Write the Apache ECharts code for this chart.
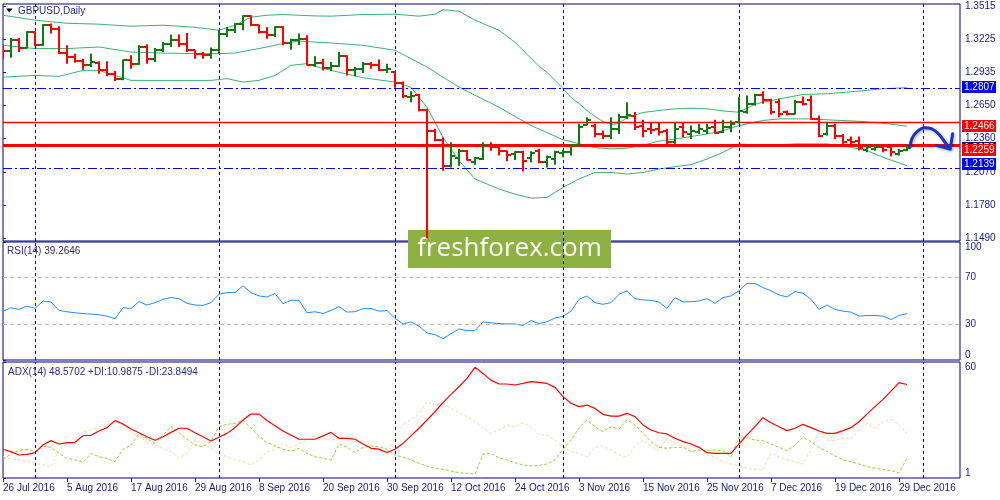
<!DOCTYPE html>
<html>
<head>
<meta charset="utf-8">
<title>GBPUSD, Daily</title>
<script src="https://cdn.jsdelivr.net/npm/echarts@6/dist/echarts.min.js"></script>
<style>
html, body { margin: 0; padding: 0; background: #fff; }
#chart { width: 1000px; height: 500px; }
</style>
</head>
<body>
<div id="chart"></div>
<script>
// x tick labels, one every 8 daily bars (bar 0 = 26 Jul 2016)
var dateTicks = ['26 Jul 2016', '5 Aug 2016', '17 Aug 2016', '29 Aug 2016', '8 Sep 2016', '20 Sep 2016',
  '30 Sep 2016', '12 Oct 2016', '24 Oct 2016', '3 Nov 2016', '15 Nov 2016', '25 Nov 2016',
  '7 Dec 2016', '19 Dec 2016', '29 Dec 2016'];
// bar index of the first day of each month (last one = 2 Jan 2017, in the empty area)
var monthStarts = [4, 27, 49, 70, 92, 115];

var priceTicks = [1.3515, 1.3225, 1.2935, 1.2650, 1.2360, 1.2070, 1.1780, 1.1490];
var rsiTicks = [0, 30, 70, 100];
var adxTicks = [1, 60];

// daily OHLC bars
var opens = [1.3150,1.3128,1.3223,1.3151,1.3291,1.3174,1.3349,1.3320,1.3107,1.3072,
  1.3034,1.2999,1.3020,1.2955,1.2920,1.2882,1.3043,1.3010,1.3159,1.3057,
  1.3130,1.3188,1.3223,1.3188,1.3130,1.3101,1.3086,1.3130,1.3276,1.3311,
  1.3358,1.3428,1.3349,1.3291,1.3262,1.3334,1.3194,1.3218,1.3232,1.3005,
  1.3020,1.2976,1.2990,1.3078,1.2961,1.2970,1.3013,1.3005,1.2961,1.2940,
  1.2844,1.2722,1.2736,1.2611,1.2424,1.2349,1.2124,1.2190,1.2255,1.2159,
  1.2182,1.2308,1.2285,1.2249,1.2226,1.2241,1.2190,1.2249,1.2153,1.2182,
  1.2232,1.2241,1.2300,1.2480,1.2474,1.2401,1.2387,1.2445,1.2547,1.2561,
  1.2474,1.2445,1.2445,1.2430,1.2330,1.2459,1.2401,1.2416,1.2430,1.2459,
  1.2416,1.2459,1.2503,1.2591,1.2664,1.2736,1.2698,1.2678,1.2591,1.2576,
  1.2678,1.2698,1.2532,1.2401,1.2474,1.2387,1.2350,1.2343,1.2262,1.2270,
  1.2284,1.2284,1.2226,1.2262];
var highs = [1.3174,1.3238,1.3238,1.3296,1.3296,1.3358,1.3363,1.3340,1.3174,1.3101,
  1.3057,1.3101,1.3034,1.3034,1.2949,1.3049,1.3086,1.3174,1.3183,1.3151,
  1.3203,1.3267,1.3267,1.3282,1.3136,1.3116,1.3154,1.3305,1.3334,1.3369,
  1.3436,1.3436,1.3352,1.3334,1.3340,1.3340,1.3232,1.3276,1.3262,1.3078,
  1.3057,1.3028,1.3116,1.3086,1.2984,1.3028,1.3028,1.3049,1.3013,1.2946,
  1.2859,1.2774,1.2751,1.2620,1.2445,1.2372,1.2328,1.2270,1.2261,1.2197,
  1.2328,1.2328,1.2300,1.2255,1.2249,1.2255,1.2249,1.2270,1.2212,1.2255,
  1.2261,1.2314,1.2489,1.2547,1.2489,1.2430,1.2547,1.2576,1.2678,1.2591,
  1.2524,1.2503,1.2503,1.2445,1.2503,1.2503,1.2474,1.2489,1.2489,1.2524,
  1.2524,1.2518,1.2720,1.2736,1.2751,1.2774,1.2707,1.2707,1.2605,1.2698,
  1.2728,1.2736,1.2561,1.2503,1.2489,1.2401,1.2378,1.2378,1.2299,1.2290,
  1.2290,1.2293,1.2270,1.2308];
var lows = [1.3049,1.3066,1.3116,1.3145,1.3165,1.3170,1.3276,1.3101,1.3013,1.3022,
  1.2961,1.2984,1.2926,1.2903,1.2862,1.2868,1.2970,1.3005,1.3013,1.3028,
  1.3116,1.3159,1.3159,1.3116,1.3057,1.3057,1.3057,1.3101,1.3247,1.3282,
  1.3305,1.3340,1.3276,1.3232,1.3247,1.3174,1.3136,1.3174,1.2999,1.2984,
  1.2955,1.2949,1.2985,1.2911,1.2903,1.2932,1.2970,1.2949,1.2932,1.2804,
  1.2713,1.2678,1.2597,1.1491,1.2337,1.2080,1.2109,1.2124,1.2168,1.2133,
  1.2174,1.2255,1.2212,1.2162,1.2174,1.2074,1.2153,1.2145,1.2109,1.2133,
  1.2197,1.2212,1.2290,1.2474,1.2372,1.2357,1.2357,1.2401,1.2532,1.2436,
  1.2372,1.2401,1.2387,1.2299,1.2314,1.2372,1.2357,1.2401,1.2401,1.2401,
  1.2410,1.2416,1.2490,1.2576,1.2649,1.2664,1.2570,1.2547,1.2561,1.2570,
  1.2649,1.2524,1.2372,1.2387,1.2357,1.2299,1.2314,1.2256,1.2241,1.2255,
  1.2241,1.2203,1.2212,1.2249];
var closes = [1.3128,1.3223,1.3151,1.3291,1.3174,1.3349,1.3320,1.3107,1.3072,1.3034,
  1.2999,1.3025,1.2955,1.2920,1.2882,1.3043,1.3010,1.3159,1.3057,1.3130,
  1.3188,1.3223,1.3188,1.3130,1.3101,1.3086,1.3130,1.3276,1.3311,1.3358,
  1.3428,1.3349,1.3291,1.3262,1.3334,1.3194,1.3218,1.3232,1.3005,1.3020,
  1.2976,1.2990,1.3078,1.2961,1.2970,1.3013,1.3005,1.2961,1.2970,1.2844,
  1.2728,1.2732,1.2611,1.2424,1.2349,1.2124,1.2212,1.2255,1.2174,1.2191,
  1.2308,1.2285,1.2255,1.2220,1.2241,1.2168,1.2232,1.2153,1.2197,1.2241,
  1.2241,1.2300,1.2459,1.2518,1.2401,1.2387,1.2445,1.2547,1.2570,1.2459,
  1.2430,1.2436,1.2416,1.2330,1.2445,1.2416,1.2430,1.2445,1.2450,1.2410,
  1.2459,1.2489,1.2605,1.2664,1.2736,1.2698,1.2591,1.2576,1.2576,1.2678,
  1.2664,1.2532,1.2387,1.2474,1.2387,1.2330,1.2330,1.2276,1.2284,1.2284,
  1.2262,1.2241,1.2249,1.2276];

// Bollinger bands at these bar indexes
var bbUpperAt = [0,4,8,12,16,20,24,27,29,31,33,35,39,41,45,49,52,54,55,57,59,62,64,66,67,68,69,70,71,72,
  73,74,75,76,77,78,80,82,84,86,88,90,92,94,95,98,100,103,107,110,113];
var bbUpper = [1.3436,1.3393,1.3366,1.3358,1.3340,1.3349,1.3331,1.3305,1.3349,1.3419,
  1.3436,1.3442,1.3430,1.3428,1.3442,1.3445,1.3428,1.3445,1.3484,1.3471,
  1.3393,1.3305,1.3200,1.3060,1.2990,1.2938,1.2868,1.2798,1.2719,1.2666,
  1.2605,1.2553,1.2509,1.2483,1.2491,1.2544,1.2588,1.2605,1.2620,1.2625,
  1.2620,1.2601,1.2590,1.2658,1.2678,1.2719,1.2745,1.2751,1.2774,1.2795,1.2804];
var bbMiddleAt = [0,4,8,12,16,20,24,27,29,33,35,37,39,41,45,49,53,57,62,66,
  70,72,74,76,78,80,82,84,86,88,90,92,95,97,101,103,107,110,113];
var bbMiddle = [1.3174,1.3145,1.3145,1.3159,1.3115,1.3106,1.3101,1.3101,1.3106,1.3159,
  1.3189,1.3211,1.3202,1.3194,1.3174,1.3130,1.2984,1.2809,1.2634,1.2474,
  1.2351,1.2316,1.2282,1.2270,1.2277,1.2303,1.2338,1.2357,1.2378,1.2401,
  1.2430,1.2474,1.2518,1.2532,1.2532,1.2524,1.2511,1.2494,1.2468];
var bbLowerAt = [0,4,7,10,12,14,16,20,26,28,30,32,34,36,38,39,41,45,49,51,
  53,55,57,59,62,64,66,68,70,72,74,76,78,80,82,84,86,88,90,92,95,99,103,106,108,110,113];
var bbLower = [1.2896,1.2911,1.2903,1.2955,1.2955,1.2911,1.2868,1.2868,1.2868,1.2883,
  1.2853,1.2868,1.2911,1.2999,1.3014,1.2990,1.2955,1.2891,1.2853,1.2809,
  1.2634,1.2371,1.2168,1.2008,1.1920,1.1876,1.1841,1.1847,1.1934,1.2008,
  1.2065,1.2065,1.2051,1.2065,1.2095,1.2115,1.2133,1.2182,1.2240,1.2314,
  1.2299,1.2314,1.2314,1.2284,1.2255,1.2197,1.2124];

var rsi = [41.4,44.3,42.9,45.7,43.7,50.0,49.1,42.0,40.9,40.0,
  39.4,38.9,38.3,37.2,34.9,44.3,43.7,49.4,46.6,48.6,
  51.4,52.9,52.0,48.0,46.6,46.3,48.6,55.7,57.1,57.1,
  62.9,57.1,54.3,53.4,56.3,47.7,50.6,50.6,40.0,40.9,
  39.4,42.0,45.2,40.6,40.9,43.4,43.7,41.4,42.0,35.2,
  30.6,32.3,28.6,22.9,21.5,18.0,22.3,26.3,24.9,24.9,
  32.3,31.5,30.9,30.6,30.6,29.2,33.4,30.9,32.3,35.7,
  36.9,41.4,51.4,54.3,48.6,47.2,48.6,55.7,58.6,52.0,
  50.9,50.6,49.2,43.7,52.9,49.2,49.4,50.0,52.0,48.0,
  52.9,54.3,58.6,64.9,64.9,61.4,58.6,55.1,53.4,58.0,
  56.6,51.4,42.9,46.6,42.9,41.4,40.6,37.2,37.7,37.7,
  37.2,34.3,37.7,39.26];

var adx = [15.6,14.4,12.7,13.0,13.9,17.8,20.0,18.3,19.0,19.1,
  22.5,22.7,24.9,26.6,30.2,28.5,25.9,24.0,22.0,20.2,
  22.0,24.2,26.3,26.3,24.0,22.0,19.8,21.7,23.7,26.6,
  30.5,33.5,33.5,30.2,27.6,24.9,22.9,20.7,20.7,20.7,
  22.4,24.2,21.2,21.2,20.7,18.3,16.1,15.7,14.0,15.6,
  18.6,22.4,26.3,30.5,34.7,39.3,43.5,47.4,51.7,57.3,
  54.2,50.8,48.8,48.8,48.3,49.1,50.0,49.6,49.1,47.1,
  42.4,39.0,37.3,38.1,36.4,33.4,32.5,32.5,33.9,32.2,
  28.0,25.4,24.0,23.4,21.2,19.5,18.3,16.6,13.9,13.5,
  13.5,13.5,18.3,22.9,27.1,31.7,29.1,27.1,25.1,26.3,
  28.3,26.6,24.9,23.7,23.7,25.1,26.6,29.6,33.5,37.3,
  41.0,45.2,49.5,48.57];
var plusDI = [10.2,13.5,14.9,15.6,14.4,17.3,16.6,13.5,11.0,10.2,
  9.1,13.5,11.8,11.0,9.3,15.6,17.8,23.4,21.2,18.6,
  22.9,27.1,24.0,20.7,17.8,16.9,19.5,27.1,28.3,28.8,
  30.5,26.3,22.4,19.0,17.3,15.6,14.7,16.1,13.5,11.8,
  11.0,10.2,18.3,16.6,13.9,16.6,17.3,16.9,15.6,12.7,
  11.5,10.2,8.5,7.1,5.9,5.4,4.6,3.7,3.4,2.9,
  13.2,13.5,11.3,10.2,8.8,7.6,7.1,7.4,8.1,10.2,
  15.6,20.3,26.3,30.5,27.1,24.6,27.1,25.9,30.5,28.0,
  23.7,19.5,16.6,16.1,16.6,16.6,14.4,15.2,14.9,15.2,
  14.9,11.8,22.0,21.5,20.3,20.0,18.3,16.6,14.9,17.8,
  21.7,19.5,16.6,14.4,12.2,10.2,9.3,8.1,6.8,5.9,
  5.4,4.7,3.7,10.99];
var minusDI = [11.8,10.5,10.2,9.6,8.5,7.6,6.8,15.2,18.3,19.0,
  24.6,25.4,27.1,28.0,29.6,28.0,24.6,22.0,19.5,17.8,
  16.1,14.4,11.0,13.5,20.3,18.6,16.1,13.5,11.8,10.2,
  9.3,7.6,10.2,14.4,15.6,18.3,16.6,18.6,20.3,22.4,
  21.2,20.3,21.2,22.4,20.7,18.6,16.6,13.5,13.0,21.7,
  28.0,30.8,33.9,39.8,38.1,39.0,36.4,34.2,32.2,29.6,
  26.3,23.7,25.4,28.0,27.1,29.1,27.1,22.9,22.9,20.3,
  16.6,14.4,13.5,11.8,16.6,17.3,15.2,12.7,11.5,17.3,
  20.3,16.9,15.2,21.2,18.6,17.3,15.2,12.7,12.7,11.8,
  9.3,8.1,7.1,5.9,5.4,5.1,13.9,11.8,10.2,9.3,
  8.1,15.6,24.6,20.3,20.0,21.5,20.8,25.7,28.8,26.3,
  29.6,30.8,28.0,23.85];

// horizontal levels drawn on the price panel
var levelHigh = 1.2807, levelMid = 1.2466, levelLow = 1.2259, levelSupport = 1.2139, bidPrice = 1.2276;
// price tags on the right scale (bid first so the red 1.2259 tag covers it)
var tagPrices = [levelHigh, levelMid, bidPrice, levelLow, levelSupport];

// hand drawn forecast arrow (bar index, price)
var arrowAt = [113.4, 113.6, 114.2, 115.2, 116.1, 116.9, 117.75, 118.4];
var arrowPrice = [1.2284, 1.2358, 1.2416, 1.2454, 1.2445, 1.2404, 1.2328, 1.2270];
var arrowHeadAt = [116.7, 118.4, 118.7];
var arrowHeadPrice = [1.2299, 1.2270, 1.2402];

var FONT = '"Liberation Sans", Arial, sans-serif';
var NAVY = '#1a1a80';
var GREEN = '#0f7a0f', RED = '#ff0000';
var TAG_COLORS = ['#0000ff', '#ff0000', '#101060', '#ff0000', '#0000ff'];
var X_MAX = 119.625;

function pairs(xs, ys) { return xs.map(function (x, i) { return [x, ys[i]]; }); }
function byBar(ys) { return ys.map(function (y, i) { return [i, y]; }); }

var ohlc = opens.map(function (o, i) { return [i, o, highs[i], lows[i], closes[i]]; });
var tickIdx = dateTicks.map(function (d, i) { return i * 8; });

var monthLines = {
  symbol: 'none', silent: true, animation: false,
  label: { show: false },
  lineStyle: { color: '#000080', type: [3, 3], width: 1 },
  data: monthStarts.map(function (m) { return { xAxis: m }; })
};

function level(v, color, type, width) {
  return { yAxis: v, lineStyle: { color: color, type: type, width: width } };
}

function gridBox(top, height) {
  return { left: 3, right: 40, top: top, height: height, show: true,
    borderColor: '#000080', borderWidth: 1, backgroundColor: '#fff' };
}

function rightAxis(idx, min, max, ticks, fmt, edgeAlign) {
  var label = {
    customValues: ticks, formatter: fmt, margin: 5,
    fontFamily: FONT, fontSize: 10, color: NAVY
  };
  if (edgeAlign) {
    label.verticalAlignMinLabel = 'bottom';
    label.verticalAlignMaxLabel = 'top';
  }
  return {
    gridIndex: idx, type: 'value', position: 'right', min: min, max: max,
    splitLine: { show: false }, axisLine: { show: false },
    axisTick: { show: true, length: 3, customValues: ticks, lineStyle: { color: NAVY } },
    axisLabel: label
  };
}

function hiddenX(idx) {
  return { gridIndex: idx, type: 'value', min: 0, max: X_MAX, show: false, splitLine: { show: false } };
}

var chart = echarts.init(document.getElementById('chart'));
var option = {
  animation: false,
  backgroundColor: '#fff',
  grid: [gridBox(4, 237), gridBox(242, 118), gridBox(362, 116)],
  xAxis: [
    hiddenX(0), hiddenX(1),
    {
      gridIndex: 2, type: 'value', min: 0, max: X_MAX,
      splitLine: { show: false }, axisLine: { show: false },
      axisTick: { show: true, length: 4, customValues: tickIdx, lineStyle: { color: NAVY } },
      axisLabel: {
        customValues: tickIdx, align: 'left', margin: 5,
        fontFamily: FONT, fontSize: 10, color: NAVY,
        formatter: function (v) { return dateTicks[Math.round(v / 8)] || ''; }
      }
    }
  ],
  yAxis: [
    rightAxis(0, 1.1467, 1.3534, priceTicks, function (v) { return v.toFixed(4); }, false),
    rightAxis(1, 0, 100, rsiTicks, function (v) { return String(v); }, true),
    rightAxis(2, 1, 60, adxTicks, function (v) { return String(v); }, true)
  ],
  series: [
    {
      name: 'Upper band', type: 'line', xAxisIndex: 0, yAxisIndex: 0,
      data: pairs(bbUpperAt, bbUpper), showSymbol: false, silent: true,
      lineStyle: { color: '#3cb371', width: 1 }, z: 2,
      markLine: monthLines
    },
    {
      name: 'Middle band', type: 'line', xAxisIndex: 0, yAxisIndex: 0,
      data: pairs(bbMiddleAt, bbMiddle), showSymbol: false, silent: true,
      lineStyle: { color: '#3cb371', width: 1 }, z: 2,
      markLine: {
        symbol: 'none', silent: true, animation: false, label: { show: false },
        data: [
          level(levelHigh, '#0000ee', [9, 3, 2, 3], 1),
          level(levelSupport, '#0000ee', [9, 3, 2, 3], 1),
          level(bidPrice, '#c8c8c8', 'solid', 1),
          level(levelMid, '#ff0000', 'solid', 1.3),
          level(levelLow, '#ff0000', 'solid', 3)
        ]
      }
    },
    {
      name: 'Lower band', type: 'line', xAxisIndex: 0, yAxisIndex: 0,
      data: pairs(bbLowerAt, bbLower), showSymbol: false, silent: true,
      lineStyle: { color: '#3cb371', width: 1 }, z: 2
    },
    {
      name: 'GBPUSD', type: 'custom', xAxisIndex: 0, yAxisIndex: 0, z: 5, clip: true,
      data: ohlc, encode: { x: 0, y: [1, 2, 3, 4] },
      renderItem: function (params, api) {
        var i = api.value(0), o = api.value(1), h = api.value(2), l = api.value(3), c = api.value(4);
        var pH = api.coord([i, h]), pL = api.coord([i, l]);
        var pO = api.coord([i, o]), pC = api.coord([i, c]);
        var col = c >= o ? GREEN : RED;
        var x = Math.round(pH[0]);
        var st = { stroke: col, lineWidth: 2 };
        return {
          type: 'group',
          children: [
            { type: 'line', shape: { x1: x, y1: pH[1], x2: x, y2: pL[1] }, style: st },
            { type: 'line', shape: { x1: x - 4, y1: Math.round(pO[1]), x2: x, y2: Math.round(pO[1]) }, style: st },
            { type: 'line', shape: { x1: x, y1: Math.round(pC[1]), x2: x + 4, y2: Math.round(pC[1]) }, style: st }
          ]
        };
      }
    },
    {
      name: 'Price tags', type: 'custom', xAxisIndex: 0, yAxisIndex: 0, z: 20, clip: false, silent: true,
      data: tagPrices.map(function (p, k) { return [X_MAX, p, k]; }),
      encode: { x: 0, y: 1 },
      renderItem: function (params, api) {
        var pt = api.coord([api.value(0), api.value(1)]);
        var y = Math.round(pt[1]);
        return {
          type: 'group',
          children: [
            { type: 'rect', shape: { x: pt[0] + 2, y: y - 6, width: 34, height: 12 },
              style: { fill: TAG_COLORS[api.value(2)] } },
            { type: 'text', x: pt[0] + 4, y: y + 0.5,
              style: { text: api.value(1).toFixed(4), fill: '#fff', font: '10px ' + FONT, verticalAlign: 'middle' } }
          ]
        };
      }
    },
    {
      name: 'Arrow', type: 'line', xAxisIndex: 0, yAxisIndex: 0, z: 6,
      data: pairs(arrowAt, arrowPrice), smooth: 0.4, showSymbol: false, silent: true,
      lineStyle: { color: '#1736c4', width: 3, shadowColor: 'rgba(0,0,0,0.35)', shadowBlur: 3, shadowOffsetX: 1, shadowOffsetY: 1 }
    },
    {
      name: 'Arrow head', type: 'line', xAxisIndex: 0, yAxisIndex: 0, z: 6,
      data: pairs(arrowHeadAt, arrowHeadPrice), showSymbol: false, silent: true,
      lineStyle: { color: '#1736c4', width: 3, cap: 'round', join: 'round', shadowColor: 'rgba(0,0,0,0.35)', shadowBlur: 3, shadowOffsetX: 1, shadowOffsetY: 1 }
    },
    {
      name: 'RSI(14)', type: 'line', xAxisIndex: 1, yAxisIndex: 1,
      data: byBar(rsi), showSymbol: false, silent: true,
      lineStyle: { color: '#1e90ff', width: 1 },
      markLine: {
        symbol: 'none', silent: true, animation: false, label: { show: false },
        lineStyle: { color: '#c0c0c0', type: [4, 3], width: 1 },
        data: [{ yAxis: 70 }, { yAxis: 30 }]
      }
    },
    {
      name: 'RSI months', type: 'line', xAxisIndex: 1, yAxisIndex: 1,
      data: [], markLine: monthLines
    },
    {
      name: '-DI', type: 'line', xAxisIndex: 2, yAxisIndex: 2,
      data: byBar(minusDI), showSymbol: false, silent: true,
      lineStyle: { color: '#f5d9b0', width: 1, type: [3, 2] },
      markLine: monthLines
    },
    {
      name: '+DI', type: 'line', xAxisIndex: 2, yAxisIndex: 2,
      data: byBar(plusDI), showSymbol: false, silent: true,
      lineStyle: { color: '#9acd32', width: 1, type: [3, 2] }
    },
    {
      name: 'ADX(14)', type: 'line', xAxisIndex: 2, yAxisIndex: 2,
      data: byBar(adx), showSymbol: false, silent: true,
      lineStyle: { color: '#ff0000', width: 1.2 }
    }
  ],
  graphic: [
    { type: 'polygon', shape: { points: [[6, 8.5], [12.5, 8.5], [9.25, 12.5]] }, style: { fill: '#000' }, z: 50 },
    { type: 'text', x: 18, y: 11, z: 50,
      style: { text: 'GBPUSD,Daily', font: '10px ' + FONT, fill: '#2a2a8c', verticalAlign: 'middle' } },
    { type: 'text', x: 7, y: 251, z: 50,
      style: { text: 'RSI(14) 39.2646', font: '10px ' + FONT, fill: '#2a2a8c', verticalAlign: 'middle' } },
    { type: 'text', x: 8, y: 372, z: 50,
      style: { text: 'ADX(14) 48.5702 +DI:10.9875 -DI:23.8494', font: '10px ' + FONT, fill: '#2a2a8c', verticalAlign: 'middle' } },
    {
      type: 'group', x: 408, y: 230, z: 100,
      children: [
        { type: 'rect', shape: { x: 0, y: 0, width: 203, height: 38 }, style: { fill: '#8db241' } },
        { type: 'text', x: 101.5, y: 19,
          style: { text: 'freshforex.com', font: '26px "Open Sans", sans-serif', fill: '#fff', align: 'center', verticalAlign: 'middle' } }
      ]
    }
  ]
};
chart.setOption(option);
</script>
</body>
</html>
